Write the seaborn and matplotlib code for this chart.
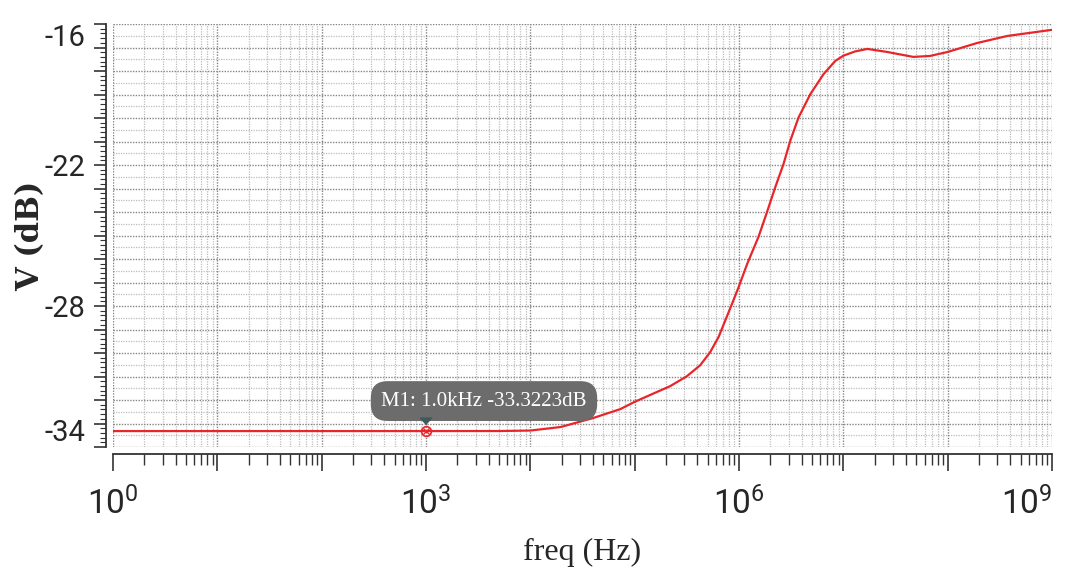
import numpy as np
import pandas as pd
import matplotlib
matplotlib.use("Agg")
import matplotlib.pyplot as plt
import matplotlib.ticker as mticker
from matplotlib import font_manager
import seaborn as sns

# ---------------- data ----------------
freq_hz = [1, 1e3, 5e3, 1e4, 1.95e4, 3.98e4, 7.26e4, 1.01e5, 1.52e5, 2.19e5, 3.16e5,
           4.25e5, 5.30e5, 6.37e5, 7.38e5, 8.55e5, 9.91e5, 1.2e6, 1.54e6, 1.85e6,
           2.22e6, 2.67e6, 3.10e6, 3.72e6, 4.82e6, 6.47e6, 8.38e6, 1e7, 1.29e7,
           1.70e7, 2.63e7, 4.68e7, 6.76e7, 1e8, 1.91e8, 3.72e8, 9.55e8, 1e9]
v_db = [-33.3223, -33.3223, -33.32, -33.30, -33.15, -32.77, -32.39, -32.07, -31.72,
        -31.41, -30.99, -30.52, -29.96, -29.32, -28.62, -27.92, -27.20, -26.20,
        -25.05, -24.02, -22.96, -21.96, -20.97, -19.98, -18.99, -18.13, -17.57,
        -17.35, -17.17, -17.06, -17.19, -17.40, -17.36, -17.19, -16.81, -16.51,
        -16.26, -16.25]
marker_freq = [1e3]
marker_db = [-33.3223]
marker_label = "M1: 1.0kHz -33.3223dB"
x_label = "freq (Hz)"
y_label = "V (dB)"
x_labeled_exps = [0, 3, 6, 9]
y_labeled_ticks = [-34, -28, -22, -16]

df = pd.DataFrame({"freq": freq_hz, "vdb": v_db})

# ---------------- style ----------------
sns.set_style("white")
avail = {f.name for f in font_manager.fontManager.ttflist}
tickfont = "Roboto" if "Roboto" in avail else "DejaVu Sans"
plt.rcParams["font.family"] = ["DejaVu Sans"]
plt.rcParams["axes.unicode_minus"] = False
plt.rcParams["mathtext.fontset"] = "custom"
plt.rcParams["mathtext.rm"] = tickfont
plt.rcParams["mathtext.default"] = "rm"

fig = plt.figure(figsize=(10.69, 5.72), dpi=100)
W, H = 1069, 572
ax = fig.add_axes([113 / W, 1 - 447 / H, 939 / W, 423 / H])

sns.lineplot(data=df, x="freq", y="vdb", ax=ax, color="#e8262a", lw=1.6,
             legend=False, zorder=5)

ax.set_xscale("log")
ax.set_xlim(1, 1e9)
ax.set_ylim(-34, -16)

# spines
for s in ["top", "right"]:
    ax.spines[s].set_visible(False)
for s in ["left", "bottom"]:
    ax.spines[s].set_position(("outward", 5))
    ax.spines[s].set_color("#333333")
    ax.spines[s].set_linewidth(1.3)

# x ticks
ax.xaxis.set_major_locator(mticker.LogLocator(base=10, numticks=20))
ax.xaxis.set_minor_locator(mticker.LogLocator(base=10, subs=np.arange(2, 10), numticks=200))
ax.xaxis.set_major_formatter(mticker.FuncFormatter(
    lambda v, p: (r"$10^{%d}$" % round(np.log10(v))) if round(np.log10(v)) in x_labeled_exps else ""))
ax.xaxis.set_minor_formatter(mticker.NullFormatter())
ax.tick_params(axis="x", which="both", bottom=True, top=False)
ax.tick_params(axis="x", which="major", length=12, width=1.2, color="#333333",
               direction="out", pad=12, labelsize=24)
ax.tick_params(axis="x", which="minor", length=8, width=1.0, color="#333333", direction="out")

# y ticks
ax.yaxis.set_major_locator(mticker.MultipleLocator(1))
ax.yaxis.set_minor_locator(mticker.MultipleLocator(0.2))
ax.yaxis.set_major_formatter(mticker.FuncFormatter(
    lambda v, p: ("%d" % round(v)) if round(v) in y_labeled_ticks and abs(v - round(v)) < 1e-6 else ""))
ax.tick_params(axis="y", which="both", left=True, right=False)
ax.tick_params(axis="y", which="major", length=9, width=1.2, color="#333333",
               direction="out", pad=6, labelsize=21)
ax.tick_params(axis="y", which="minor", length=4, width=0.8, color="#333333", direction="out")

# grid
ax.set_axisbelow(True)
ax.grid(which="major", axis="both", color="#858585", linestyle=(0, (1, 1)), linewidth=1.0)
ax.grid(which="minor", axis="x", color="#bdbdbd", linestyle=(0, (1, 1)), linewidth=0.9)
for yv in np.arange(-33.5, -16, 1.0):
    ax.axhline(yv, color="#bdbdbd", linestyle=(0, (1, 1)), linewidth=0.9, zorder=0)

# labels
ax.set_xlabel(x_label, fontsize=23, family=["Liberation Serif", "DejaVu Serif"], labelpad=12)
ax.set_ylabel(y_label, fontsize=22, family=["DejaVu Serif"], fontweight="bold",
              va="center")
ax.yaxis.set_label_coords(-0.088, 0.5)

# marker
ax.plot(marker_freq, marker_db, marker="o", ms=7, mfc="none", mec="#e8262a", mew=1.2,
        linestyle="none", zorder=7)
ax.plot(marker_freq, marker_db, marker="x", ms=5, mec="#e8262a", mew=1.0,
        linestyle="none", zorder=7)
ax.annotate(marker_label, xy=(marker_freq[0], marker_db[0]), xytext=(58, 30),
            textcoords="offset pixels", ha="center", va="center", color="white",
            fontsize=15, family=["Liberation Serif", "DejaVu Serif"], zorder=9,
            bbox=dict(boxstyle="round,pad=0.5,rounding_size=0.8", fc="#6c6c6c", ec="none"))
ax.annotate("", xy=(marker_freq[0], marker_db[0]), xytext=(0, 13),
            textcoords="offset pixels", zorder=10,
            arrowprops=dict(arrowstyle="wedge,tail_width=0.8", color="#3f5a5a",
                            shrinkA=0, shrinkB=5))

# tick label placement tweaks (edge labels kept inside like the reference)
fig.canvas.draw()
for lab in ax.get_yticklabels():
    lab.set_family(tickfont)
    t = lab.get_text()
    if t == "-16":
        lab.set_va("top")
    elif t == "-34":
        lab.set_va("bottom")
for lab in ax.get_xticklabels():
    if lab.get_text() == r"$10^{9}$":
        lab.set_ha("right")

fig.savefig("out.png", dpi=100, facecolor="white")
